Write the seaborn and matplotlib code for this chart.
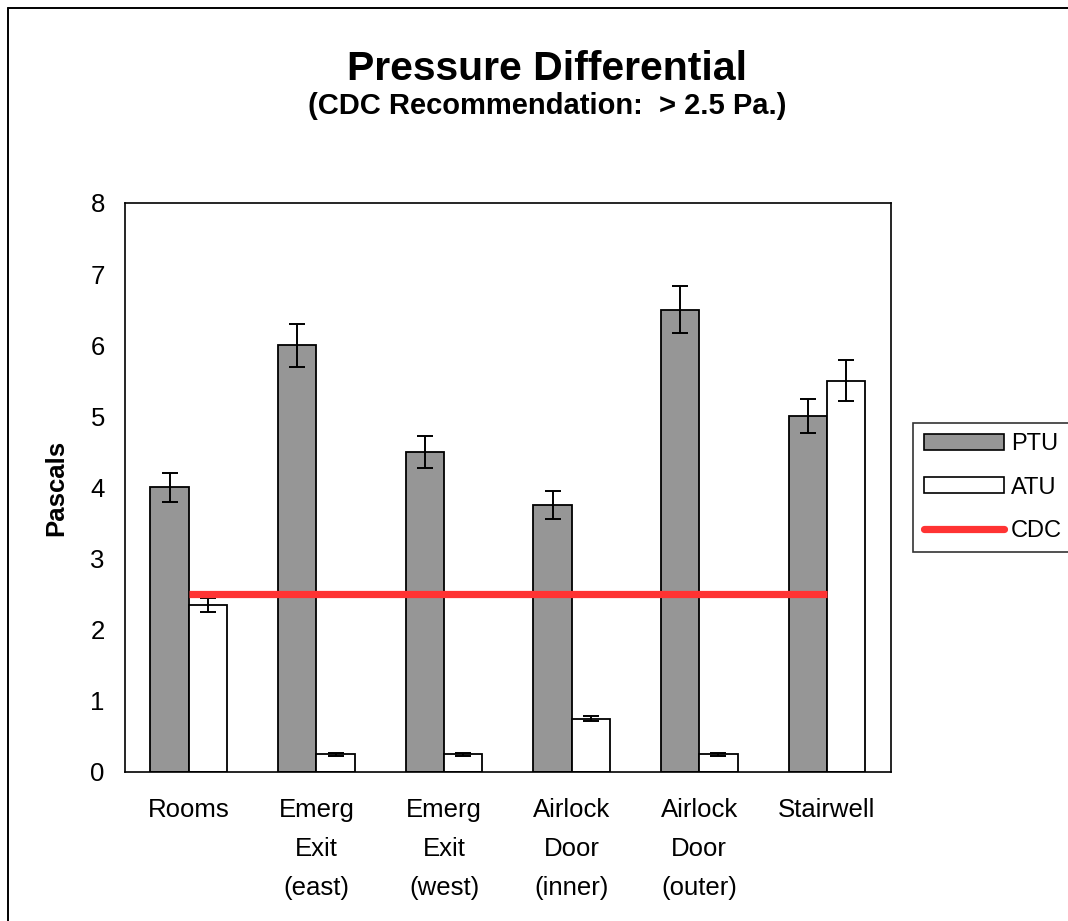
import numpy as np
import pandas as pd
import matplotlib
matplotlib.use('Agg')
import matplotlib.pyplot as plt
from matplotlib.patches import Patch
from matplotlib.lines import Line2D
from matplotlib.ticker import FixedLocator, NullFormatter
import seaborn as sns

# ---- data ----
categories = ['Rooms', 'Emerg\nExit\n(east)', 'Emerg\nExit\n(west)',
              'Airlock\nDoor\n(inner)', 'Airlock\nDoor\n(outer)', 'Stairwell']
ptu_values = [4.0, 6.0, 4.5, 3.75, 6.5, 5.0]
ptu_errors = [0.2, 0.3, 0.23, 0.2, 0.33, 0.24]
atu_values = [2.35, 0.25, 0.25, 0.75, 0.25, 5.5]
atu_errors = [0.1, 0.02, 0.02, 0.04, 0.02, 0.29]
cdc_level = [2.5] * len(categories)
series = ['PTU', 'ATU']

# ---- style ----
sns.set_style('white')
plt.rcParams['font.family'] = ['Liberation Sans', 'DejaVu Sans']
plt.rcParams.update({
    'axes.linewidth': 1.2,
    'text.color': 'black',
    'axes.labelcolor': 'black',
    'xtick.color': 'black',
    'ytick.color': 'black',
})

GRAY = '#969696'
RED = '#FF3333'

df = pd.DataFrame({
    'category': categories * 2,
    'series': ['PTU'] * len(categories) + ['ATU'] * len(categories),
    'value': ptu_values + atu_values,
})
errors = {'PTU': ptu_errors, 'ATU': atu_errors}

fig = plt.figure(figsize=(10.68, 9.21), dpi=100)
ax = fig.add_axes([0.117, 0.1618, 0.717, 0.6178])

sns.barplot(data=df, x='category', y='value', hue='series', order=categories,
            hue_order=series, palette={'PTU': GRAY, 'ATU': 'white'},
            width=0.6, gap=0, edgecolor='black', linewidth=1.3,
            errorbar=None, legend=False, ax=ax)

# error bars on top of the seaborn bars
bars = ax.patches
for i, s in enumerate(series):
    for j in range(len(categories)):
        b = bars[i * len(categories) + j]
        ax.errorbar(b.get_x() + b.get_width() / 2, b.get_height(),
                    yerr=errors[s][j], fmt='none', ecolor='black',
                    elinewidth=1.4, capsize=5.5, capthick=1.4, zorder=3)

# CDC recommendation line, from first to last category centre
ax.plot(np.arange(len(categories)), cdc_level, color=RED, lw=5.2,
        solid_capstyle='butt', zorder=4)

ax.set_ylim(0, 8)
ax.set_xlim(-0.5, len(categories) - 0.5)
ax.set_yticks(range(0, 9))
ax.tick_params(axis='y', which='major', direction='inout', length=13,
               width=1.2, labelsize=18.5, pad=8)
ax.tick_params(axis='x', which='major', length=0, labelsize=18.5, pad=19)
ax.xaxis.set_minor_locator(FixedLocator(np.arange(-0.5, len(categories), 1.0)))
ax.xaxis.set_minor_formatter(NullFormatter())
ax.tick_params(axis='x', which='minor', direction='inout', length=16, width=1.2)
for lab in ax.get_xticklabels():
    lab.set_linespacing(1.78)
    lab.set_va('top')

ax.set_xlabel('')
ax.set_ylabel('Pascals', fontsize=18.5, fontweight='bold', labelpad=16)
for sp in ax.spines.values():
    sp.set_visible(True)
    sp.set_color('black')

fig.text(0.512, 0.925, 'Pressure Differential', ha='center', va='center',
         fontsize=29.5, fontweight='bold')
fig.text(0.512, 0.885, '(CDC Recommendation:  > 2.5 Pa.)', ha='center',
         va='center', fontsize=21, fontweight='bold')

handles = [Patch(facecolor=GRAY, edgecolor='black', lw=1.2),
           Patch(facecolor='white', edgecolor='black', lw=1.2),
           Line2D([0], [0], color=RED, lw=5.2)]
leg = fig.legend(handles, ['PTU', 'ATU', 'CDC'], loc='upper left',
                 bbox_to_anchor=(0.855, 0.541), fontsize=17, frameon=True,
                 fancybox=False, handlelength=3.4, handleheight=0.65,
                 handletextpad=0.3, labelspacing=0.9, borderpad=0.45,
                 borderaxespad=0)
leg.get_frame().set_edgecolor('black')
leg.get_frame().set_linewidth(1.2)

# outer chart-area border (left and top edges are visible)
fig.add_artist(Line2D([8 / 1068, 8 / 1068], [0, 1 - 8 / 921],
                      color='black', lw=1.4, transform=fig.transFigure))
fig.add_artist(Line2D([8 / 1068, 1], [1 - 8 / 921, 1 - 8 / 921],
                      color='black', lw=1.4, transform=fig.transFigure))

fig.savefig('out.png', dpi=100)
